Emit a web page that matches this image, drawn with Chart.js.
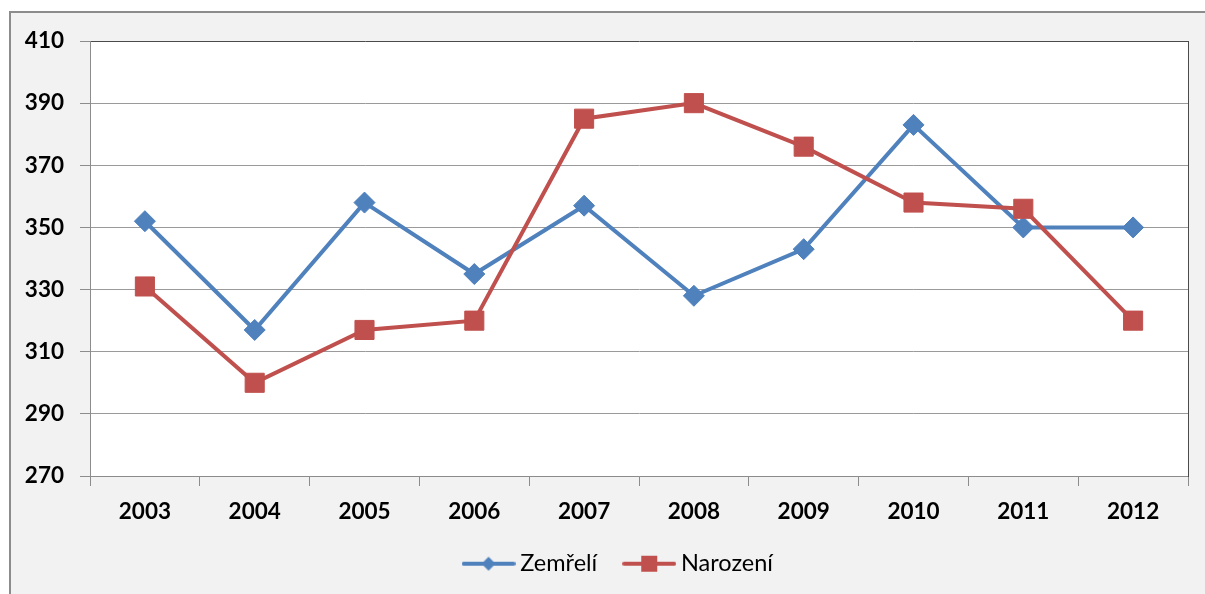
<!DOCTYPE html>
<html><head><meta charset="utf-8">
<script src="https://cdn.jsdelivr.net/npm/chart.js@4/dist/chart.umd.min.js"></script>
<style>
html,body{margin:0;padding:0;background:#fff;overflow:hidden;}
#c{position:absolute;left:0;top:0;}
</style></head><body>
<canvas id="c" width="1205" height="594"></canvas>
<script>
const years = ['2003','2004','2005','2006','2007','2008','2009','2010','2011','2012'];
const zemreli = [352,317,358,335,357,328,343,383,350,350];
const narozeni = [331,300,317,320,385,390,376,358,356,320];
const yTicks = [270,290,310,330,350,370,390,410];
const seriesNames = ['Zemřelí','Narození'];
const blue = '#4f81bd';
const red = '#c0504d';

function legendImg(color, shape){
  const c = document.createElement('canvas');
  c.width = 54; c.height = 22;
  const g = c.getContext('2d');
  g.strokeStyle = color; g.lineWidth = 4; g.lineCap = 'round';
  g.beginPath(); g.moveTo(2,11); g.lineTo(52,11); g.stroke();
  g.fillStyle = color;
  if (shape === 'diamond'){
    g.beginPath(); g.moveTo(27,4); g.lineTo(34,11); g.lineTo(27,18); g.lineTo(20,11); g.closePath(); g.fill();
  } else {
    g.fillRect(19,3,16,16);
  }
  return c;
}
const imgBlue = legendImg(blue,'diamond');
const imgRed = legendImg(red,'square');

const bgPlugin = {
  id:'bg',
  afterLayout(chart){
    if (chart.legend) { chart.legend.left = 53.5; }
  },
  beforeDraw(chart){
    const ctx = chart.ctx;
    ctx.save();
    ctx.fillStyle = '#ffffff';
    ctx.fillRect(0,0,chart.width,chart.height);
    ctx.fillStyle = '#f2f2f2';
    ctx.fillRect(10,12,chart.width,chart.height);
    ctx.strokeStyle = '#8c8c8c';
    ctx.lineWidth = 2;
    ctx.beginPath();
    ctx.moveTo(10,chart.height+5); ctx.lineTo(10,12); ctx.lineTo(chart.width+5,12);
    ctx.stroke();
    const a = chart.chartArea;
    ctx.fillStyle = '#ffffff';
    ctx.fillRect(a.left,a.top,a.right-a.left,a.bottom-a.top);
    ctx.restore();
  }
};

new Chart(document.getElementById('c'), {
  type:'line',
  data:{
    labels: years,
    datasets:[
      {label:seriesNames[0], data:zemreli, borderColor:blue, backgroundColor:blue, borderWidth:4,
       pointStyle:'rectRot', pointRadius:10.5, pointHoverRadius:10.5, pointBorderWidth:1, pointBorderColor:blue, tension:0, order:2},
      {label:seriesNames[1], data:narozeni, borderColor:red, backgroundColor:red, borderWidth:4,
       pointStyle:'rect', pointRadius:13.5, pointHoverRadius:13.5, pointBorderWidth:1, pointBorderColor:red, tension:0, order:1}
    ]
  },
  options:{
    responsive:false,
    devicePixelRatio:1,
    animation:false,
    layout:{padding:{left:20, right:17, top:41, bottom:8.5}},
    plugins:{
      tooltip:{enabled:false},
      legend:{
        position:'bottom',
        labels:{
          usePointStyle:true,
          pointStyleWidth:40,
          padding:32,
          color:'#1a1a1a',
          font:{family:'Lato', size:23.5},
          generateLabels(){
            return [
              {text:seriesNames[0], pointStyle:imgBlue, fillStyle:blue, strokeStyle:blue, lineWidth:0, datasetIndex:0, hidden:false},
              {text:seriesNames[1], pointStyle:imgRed, fillStyle:red, strokeStyle:red, lineWidth:0, datasetIndex:1, hidden:false}
            ];
          }
        }
      }
    },
    scales:{
      x:{
        offset:true,
        grid:{offset:true, drawOnChartArea:false, drawTicks:true, tickLength:10, color:'#8c8c8c', tickColor:'#8c8c8c'},
        border:{color:'#8c8c8c', width:1},
        ticks:{color:'#000', padding:12, font:{family:'Lato', size:22.5, weight:'bold', lineHeight:1.2}, maxRotation:0},
        afterFit(s){ s.height = 44; }
      },
      y:{
        min:270, max:410,
        afterBuildTicks(s){ s.ticks = yTicks.map(v=>({value:v})); },
        grid:{color:(c)=> (c.tick && c.tick.value===410) ? '#4a4a4a' : '#9a9a9a', tickColor:'#8c8c8c', tickLength:10, lineWidth:1},
        border:{color:'#8c8c8c', width:1},
        ticks:{color:'#000', padding:16, font:{family:'Lato', size:22.5, weight:'bold'}},
        afterFit(s){ s.width = 70; }
      },
      y2:{
        position:'right', min:270, max:410,
        ticks:{display:false},
        grid:{drawOnChartArea:false, drawTicks:false},
        border:{color:'#4a4a4a', width:1},
        afterFit(s){ s.width = 0; }
      }
    }
  },
  plugins:[bgPlugin]
});
</script>
</body></html>
